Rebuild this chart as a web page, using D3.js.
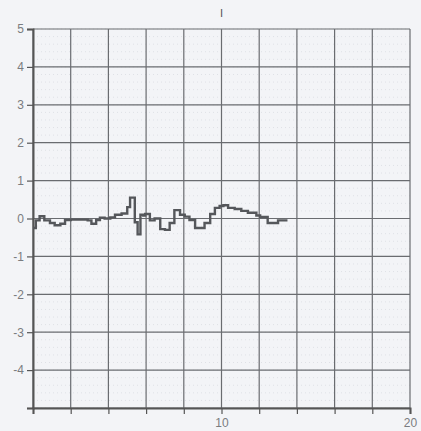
<!DOCTYPE html>
<html><head><meta charset="utf-8">
<script src="https://cdn.jsdelivr.net/npm/d3@7"></script>
<style>html,body{margin:0;padding:0;background:#f3f4f7;}svg{display:block;}</style>
</head><body>
<script>
const title = "I";
const xValues = [0, 0.15, 0.35, 0.6, 0.9, 1.15, 1.45, 1.7, 2.0, 2.25, 2.6, 2.9, 3.1, 3.35, 3.55, 3.8, 4.1, 4.35, 4.7, 5.0, 5.15, 5.4, 5.55, 5.7, 5.85, 5.95, 6.2, 6.45, 6.75, 7.0, 7.25, 7.5, 7.8, 8.05, 8.3, 8.6, 8.85, 9.1, 9.4, 9.65, 9.9, 10.1, 10.35, 10.7, 11.05, 11.4, 11.85, 12.05, 12.45, 12.75, 13.0, 13.5];
const yValues = [-0.25, -0.05, 0.06, -0.05, -0.12, -0.18, -0.14, -0.04, -0.03, -0.03, -0.03, -0.05, -0.14, -0.04, 0.02, 0.0, 0.03, 0.1, 0.13, 0.3, 0.55, -0.1, -0.42, 0.1, 0.08, 0.12, -0.05, 0.0, -0.28, -0.3, -0.12, 0.22, 0.1, 0.05, -0.04, -0.25, -0.25, -0.12, 0.12, 0.28, 0.33, 0.35, 0.28, 0.25, 0.2, 0.15, 0.08, 0.04, -0.12, -0.12, -0.05, -0.05];
const xTicks = [0, 2, 4, 6, 8, 10, 12, 14, 16, 18, 20];
const xTickLabels = ["", "", "", "", "", "10", "", "", "", "", "20"];
const yTicks = [-5, -4, -3, -2, -1, 0, 1, 2, 3, 4, 5];
const yTickLabels = ["", "-4", "-3", "-2", "-1", "0", "1", "2", "3", "4", "5"];

const W = 421, H = 431;
const m = {left: 33, right: 11, top: 29, bottom: 23};
const svg = d3.select("body").append("svg").attr("width", W).attr("height", H);
svg.append("rect").attr("width", W).attr("height", H).attr("fill", "#f3f4f7");

const x = d3.scaleLinear().domain([0, 20]).range([m.left, W - m.right]);
const y = d3.scaleLinear().domain([-5, 5]).range([H - m.bottom, m.top]);

// minor faint grid
const minorY = d3.range(-5, 5.001, 0.2);
svg.append("g").selectAll("line").data(minorY).join("line")
  .attr("x1", x(0)).attr("x2", x(20)).attr("y1", d => y(d)).attr("y2", d => y(d))
  .attr("stroke", "#dfe1e6").attr("stroke-width", 1).attr("stroke-dasharray", "1,3");

// major grid
svg.append("g").selectAll("line").data(xTicks).join("line")
  .attr("x1", d => x(d)).attr("x2", d => x(d)).attr("y1", y(5)).attr("y2", y(-5))
  .attr("stroke", "#6a6c70").attr("stroke-width", 1.2);
svg.append("g").selectAll("line").data(yTicks).join("line")
  .attr("x1", x(0)).attr("x2", x(20)).attr("y1", d => y(d)).attr("y2", d => y(d))
  .attr("stroke", "#6a6c70").attr("stroke-width", 1.2);

// axes
const yAxis = d3.axisLeft(y).tickValues(yTicks).tickSize(6).tickPadding(3)
  .tickFormat((d, i) => yTickLabels[i]);
const gy = svg.append("g").attr("transform", `translate(${x(0)},0)`).call(yAxis);
const xAxis = d3.axisBottom(x).tickValues(xTicks).tickSize(6).tickPadding(4)
  .tickFormat((d, i) => xTickLabels[i]);
const gx = svg.append("g").attr("transform", `translate(0,${y(-5)})`).call(xAxis);
[gx, gy].forEach(g => {
  g.select(".domain").attr("stroke", "#555").attr("stroke-width", 2);
  g.selectAll(".tick line").attr("stroke", "#555").attr("stroke-width", 1.2);
  g.selectAll(".tick text").attr("fill", "#7a7c80").attr("font-family", "Liberation Sans, Arial, sans-serif").attr("font-size", 12);
});

// series
const pts = xValues.map((v, i) => [v, yValues[i]]);
const line = d3.line().x(d => x(d[0])).y(d => y(d[1])).curve(d3.curveStepAfter);
svg.append("path").datum(pts).attr("d", line)
  .attr("fill", "none").attr("stroke", "#55575b").attr("stroke-width", 2.4).attr("stroke-linejoin", "miter");

svg.append("text").attr("x", x(10)).attr("y", 17).attr("text-anchor", "middle")
  .attr("fill", "#555").attr("font-family", "Liberation Sans, Arial, sans-serif").attr("font-size", 11).text(title);
</script>
</body></html>
